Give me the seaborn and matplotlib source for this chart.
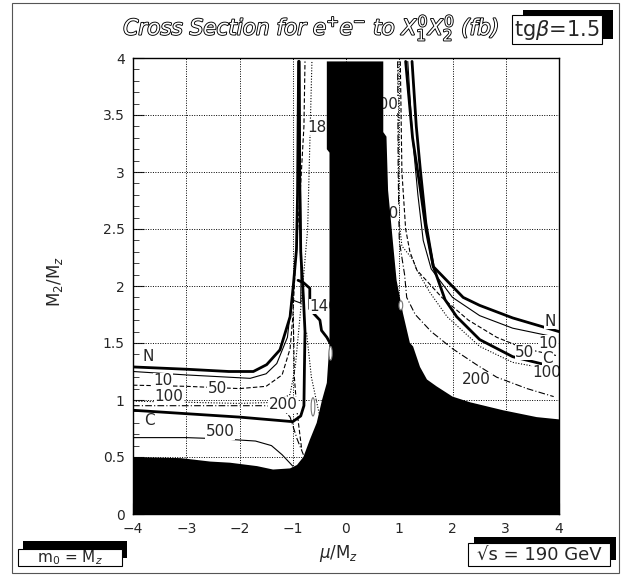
import numpy as np
import pandas as pd
import matplotlib
matplotlib.use("Agg")
import matplotlib.pyplot as plt
import matplotlib.patheffects as pe
from matplotlib.patches import Rectangle, Ellipse
import seaborn as sns

# ── data (mu/Mz, M2/Mz) ──────────────────────────────────────────
# excluded (black) region outline
excl_x = [-4.0, -4.0, -3.1, -2.55, -2.18, -1.67, -1.37, -1.05, -0.92, -0.80, -0.68, -0.55,
          -0.45, -0.36, -0.31, -0.31, -0.36, -0.36, 0.70, 0.70, 0.76, 0.79, 0.83, 0.89,
          0.95, 1.07, 1.20, 1.26, 1.39, 1.52, 1.70, 2.00, 2.33, 2.95, 3.58, 4.0, 4.0]
excl_y = [0.0, 0.50, 0.49, 0.46, 0.45, 0.42, 0.39, 0.40, 0.43, 0.50, 0.65, 0.80,
          1.00, 1.15, 1.50, 3.17, 3.20, 3.97, 3.97, 3.35, 3.31, 2.84, 2.64, 2.34,
          2.05, 1.76, 1.50, 1.47, 1.29, 1.18, 1.12, 1.03, 0.98, 0.91, 0.85, 0.83, 0.0]

# mu < 0 branch
n_left_x = [-4.0, -3.0, -2.2, -1.74, -1.49, -1.24, -1.05, -0.99, -0.93, -0.91, -0.90, -0.89]
n_left_y = [1.29, 1.27, 1.25, 1.25, 1.31, 1.44, 1.73, 2.00, 2.32, 2.80, 3.40, 3.97]
c_left_x = [-4.0, -3.0, -2.0, -1.5, -1.0, -0.85, -0.79, -0.78, -0.77, -0.80, -0.85, -0.87, -0.88]
c_left_y = [0.91, 0.88, 0.85, 0.83, 0.81, 0.86, 0.95, 1.30, 1.60, 1.90, 2.30, 3.00, 3.97]
s10_left_x = [-4.0, -3.0, -2.2, -1.8, -1.5, -1.3, -1.1, -1.02, -0.85, -0.84, -0.86, -0.87]
s10_left_y = [1.25, 1.22, 1.20, 1.19, 1.23, 1.32, 1.55, 1.88, 1.85, 2.30, 3.00, 3.97]
s50_left_x = [-4.0, -3.0, -2.0, -1.5, -1.2, -1.05, -1.0, -0.95, -0.85, -0.79, -0.77]
s50_left_y = [1.13, 1.12, 1.10, 1.12, 1.22, 1.45, 1.72, 2.20, 2.90, 3.40, 3.97]
s100_left_x = [-4.0, -3.0, -2.0, -1.3, -1.05, -0.95, -0.85, -0.72, -0.64]
s100_left_y = [0.99, 0.98, 0.97, 0.98, 1.05, 1.30, 1.80, 2.50, 3.97]
s200_left_x = [-4.0, -3.0, -2.0, -1.5, -1.2, -1.05, -0.92, -0.80]
s200_left_y = [0.95, 0.95, 0.95, 0.95, 0.93, 0.85, 0.66, 0.52]
s500_left_x = [-4.0, -3.0, -2.37, -1.7, -1.4, -1.2, -1.0]
s500_left_y = [0.67, 0.67, 0.66, 0.64, 0.60, 0.52, 0.42]
inner_dash_x = [-0.99, -0.97, -0.92, -0.83]
inner_dash_y = [1.73, 1.20, 0.90, 0.56]
inner_dot_x = [-0.74, -0.65, -0.49]
inner_dot_y = [1.59, 1.20, 0.85]
step_x = [-0.90, -0.80, -0.68, -0.68, -0.61, -0.49, -0.46, -0.36, -0.30]
step_y = [2.05, 2.03, 1.98, 1.80, 1.76, 1.70, 1.61, 1.55, 1.50]

# mu > 0 branch
n_right_x = [1.24, 1.32, 1.40, 1.50, 1.64, 2.20, 2.51, 3.13, 4.0]
n_right_y = [3.97, 3.40, 3.00, 2.55, 2.17, 1.90, 1.83, 1.72, 1.60]
c_right_x = [1.12, 1.25, 1.38, 1.50, 1.64, 1.86, 2.08, 2.51, 3.13, 4.0]
c_right_y = [3.97, 3.30, 2.90, 2.50, 2.17, 1.88, 1.73, 1.53, 1.38, 1.28]
s10_right_x = [1.16, 1.25, 1.35, 1.45, 1.60, 2.00, 2.51, 3.13, 3.95]
s10_right_y = [3.97, 3.30, 2.80, 2.40, 2.15, 1.90, 1.74, 1.63, 1.55]
s50_right_x = [1.02, 1.05, 1.12, 1.20, 1.33, 1.80, 2.30, 2.83, 3.36, 3.95]
s50_right_y = [3.97, 3.00, 2.50, 2.30, 2.14, 1.90, 1.70, 1.55, 1.45, 1.39]
s100_right_x = [0.98, 0.99, 1.05, 1.26, 1.33, 1.58, 1.90, 2.51, 3.13, 3.95]
s100_right_y = [3.97, 2.60, 2.35, 2.23, 2.14, 1.94, 1.73, 1.47, 1.33, 1.26]
s200_right_x = [0.97, 0.98, 1.00, 1.10, 1.14, 1.30, 1.60, 2.00, 2.45, 2.83, 3.40, 3.90]
s200_right_y = [3.97, 3.00, 2.40, 2.10, 1.90, 1.75, 1.60, 1.45, 1.31, 1.20, 1.10, 1.03]

# small closed contour islands: centre x, centre y, width, height
isl_x = [-0.62, -0.29, 1.03]
isl_y = [0.94, 1.41, 1.83]
isl_w = [0.07, 0.06, 0.07]
isl_h = [0.16, 0.12, 0.08]

# contour labels
lab_text = ["N", "10", "50", "100", "C", "200", "500", "18",
            "N", "10", "50", "C", "100", "200"]
lab_x = [-3.71, -3.43, -2.42, -3.33, -3.70, -1.18, -2.36, -0.55,
         3.83, 3.79, 3.36, 3.79, 3.77, 2.45]
lab_y = [1.38, 1.17, 1.10, 1.03, 0.82, 0.96, 0.72, 3.39,
         1.69, 1.50, 1.42, 1.36, 1.24, 1.18]
# labels partly hidden by the excluded region
hid_text = ["140", "100", "10"]
hid_x = [-0.42, 0.70, 0.80]
hid_y = [1.82, 3.59, 2.64]

# ── figure ────────────────────────────────────────────────────────
sns.set_style("white")
plt.rcParams['font.family'] = ['DejaVu Sans']
fig = plt.figure(figsize=(6.31, 5.76), dpi=100)
ax = fig.add_axes([133 / 631, 1 - 514 / 576, 426 / 631, 456 / 576])

THICK, THIN = 2.0, 0.8
DASH, DOT, DASHDOT = (0, (4, 2)), (0, (1, 1.5)), (0, (6, 2, 1, 2))

curves = [
    (n_left_x, n_left_y, THICK, '-'), (c_left_x, c_left_y, THICK, '-'),
    (s10_left_x, s10_left_y, THIN, '-'), (s50_left_x, s50_left_y, THIN, DASH),
    (s100_left_x, s100_left_y, THIN, DOT), (s200_left_x, s200_left_y, THIN, DASHDOT),
    (s500_left_x, s500_left_y, THIN, '-'), (inner_dash_x, inner_dash_y, THIN, DASH),
    (inner_dot_x, inner_dot_y, THIN, DOT), (step_x, step_y, THICK, '-'),
    (n_right_x, n_right_y, THICK, '-'), (c_right_x, c_right_y, THICK, '-'),
    (s10_right_x, s10_right_y, THIN, '-'), (s50_right_x, s50_right_y, THIN, DASH),
    (s100_right_x, s100_right_y, THIN, DOT), (s200_right_x, s200_right_y, THIN, DASHDOT),
]
for xs, ys, lw, ls in curves:
    d = pd.DataFrame({'mu': xs, 'm2': ys})
    sns.lineplot(data=d, x='mu', y='m2', sort=False, estimator=None,
                 color='black', lw=lw, linestyle=ls, ax=ax, zorder=2)

for t, x, y in zip(hid_text, hid_x, hid_y):
    ax.text(x, y, t, fontsize=11, ha='center', va='center', zorder=2.5,
            bbox=dict(fc='white', ec='none', pad=0.3))

ax.fill(excl_x, excl_y, color='black', zorder=4, lw=0)

for cx, cy, w, h in zip(isl_x, isl_y, isl_w, isl_h):
    ax.add_patch(Ellipse((cx, cy), w, h, fc='white', ec='#777777', lw=0.8, zorder=4.5))

for t, x, y in zip(lab_text, lab_x, lab_y):
    ax.text(x, y, t, fontsize=11, ha='center', va='center', zorder=3,
            bbox=dict(fc='white', ec='none', pad=0.3))

# grid
for gx in range(-3, 4):
    ax.axvline(gx, color='black', lw=0.7, ls=DOT, zorder=1)
for gy in np.arange(0.5, 4.0, 0.5):
    ax.axhline(gy, color='black', lw=0.7, ls=DOT, zorder=1)

ax.set_xlim(-4, 4)
ax.set_ylim(0, 4)
ax.set_xticks(range(-4, 5))
ax.set_yticks(np.arange(0, 4.01, 0.5))
ax.set_yticklabels(['0', '0.5', '1', '1.5', '2', '2.5', '3', '3.5', '4'])
ax.set_xticklabels(['\u22124', '\u22123', '\u22122', '\u22121', '0', '1', '2', '3', '4'])
ax.yaxis.set_minor_locator(matplotlib.ticker.MultipleLocator(0.1))
ax.xaxis.set_minor_locator(matplotlib.ticker.MultipleLocator(0.2))
ax.tick_params(which='both', direction='in', left=True, bottom=True, labelsize=10, pad=6)
ax.tick_params(which='major', length=8, width=0.8)
ax.tick_params(which='minor', length=4, width=0.6)
for s in ax.spines.values():
    s.set_color('black')
    s.set_linewidth(1.0)
    s.set_zorder(5)
ax.set_xlabel('')
ax.set_ylabel('')

fig.text(55 / 631, 1 - 282 / 576, r'M$_2$/M$_z$', rotation=90, fontsize=12,
         ha='center', va='center')
fig.text(339 / 631, 1 - 554 / 576, r'$\mu$/M$_z$', fontsize=12, ha='center', va='center')

# title with hollow italic letters
fig.text(311 / 631, 1 - 28 / 576,
         r'Cross Section for e$^{+}$e$^{-}$ to $X_1^0X_2^0$ (fb)',
         fontsize=15.5, style='italic', color='white', ha='center', va='center',
         path_effects=[pe.withStroke(linewidth=1.3, foreground='black')])


def shadow_box(x0, y0, x1, y1, dx, dy, text, fs):
    W, H = 631, 576
    fig.patches.append(Rectangle(((x0 + dx) / W, 1 - (y1 - dy) / H), (x1 - x0) / W,
                                 (y1 - y0) / H, transform=fig.transFigure,
                                 fc='black', ec='none', zorder=1))
    fig.patches.append(Rectangle((x0 / W, 1 - y1 / H), (x1 - x0) / W, (y1 - y0) / H,
                                 transform=fig.transFigure, fc='white', ec='black',
                                 lw=0.8, zorder=2))
    fig.text((x0 + x1) / 2 / W, 1 - (y0 + y1) / 2 / H, text, fontsize=fs,
             ha='center', va='center', zorder=3)


shadow_box(512, 15, 602, 44, 11, 5, r'tg$\beta$=1.5', 15)
shadow_box(18, 549, 122, 566, 5, 8, r'm$_0$ = M$_z$', 11)
shadow_box(468, 543, 610, 566, 6, 6, '\u221as = 190 GeV', 13)

# outer frame
fig.patches.append(Rectangle((12 / 631, 1 - 573 / 576), 607 / 631, 570 / 576,
                             transform=fig.transFigure, fc='none', ec='#555555',
                             lw=0.8, zorder=0))

fig.savefig('out.png', dpi=100)
